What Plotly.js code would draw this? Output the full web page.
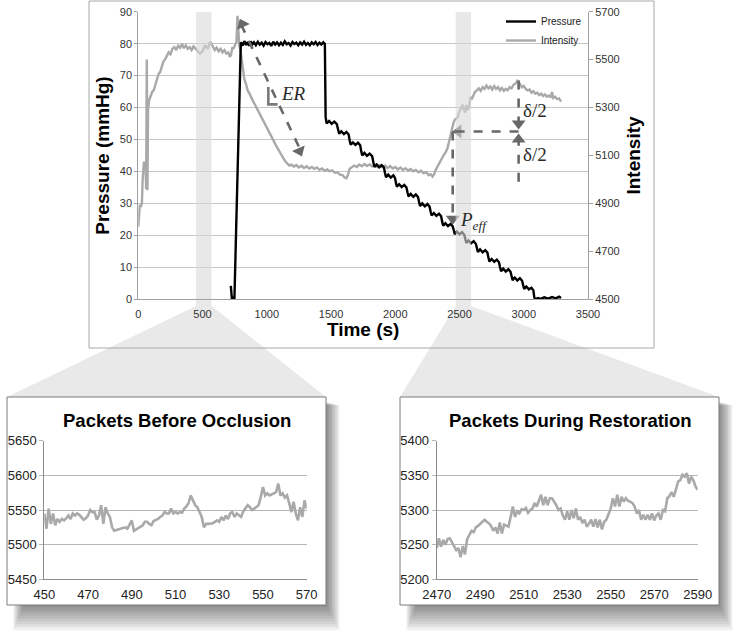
<!DOCTYPE html>
<html>
<head>
<meta charset="utf-8">
<script src="https://cdn.plot.ly/plotly-3.0.1.min.js"></script>
<style>
  html, body { margin: 0; padding: 0; background: #ffffff; }
  #chart { width: 750px; height: 635px; }
</style>
</head>
<body>
<div id="chart"></div>
<script>
// ---------------- DATA ----------------
// Main chart: cuff pressure (mmHg, left axis)
const pressureTime = [720,724,728,735,742,748,798,
  812,825,838,850,862,875,888,900,915,930,945,960,975,990,1005,1020,1035,1050,1065,1080,1095,1110,1125,1140,1155,1170,1185,1200,1215,1230,1245,1260,1275,1290,1305,1320,1335,1350,1365,1380,1395,1410,1425,1440,1452,
  1458,1466,1485,1505,1525,1545,
  1555,1563,1580,1600,1620,1637,
  1645,1653,1670,1690,1710,1727,
  1735,1743,1760,1780,1800,1820,
  1830,1838,1855,1875,1895,1912,
  1920,1928,1945,1965,1985,1998,
  2005,2013,2030,2050,2070,2087,
  2095,2103,2120,2140,2160,2177,
  2185,2193,2210,2230,2250,2267,
  2275,2283,2300,2320,2340,2357,
  2365,2373,2390,2410,2430,2447,
  2455,2463,2480,2500,2520,2537,
  2545,2553,2570,2590,2610,2627,
  2635,2643,2660,2680,2700,2717,
  2725,2733,2750,2770,2790,2807,
  2815,2823,2840,2860,2880,2897,
  2905,2913,2930,2950,2970,2987,
  2995,3003,3020,3040,3060,3075,
  3082,3090,3110,3130,3160,3190,3220,3250,3275,3290];
const pressureValue = [4.2,3.0,0.3,0.0,0.8,0.1,80.4,
  79.4,80.8,79.6,80.5,79.3,80.7,79.8,80.4,79.5,80.6,79.7,80.3,79.4,80.5,79.8,80.2,79.3,80.6,79.7,80.4,79.5,80.3,79.6,80.7,79.8,80.2,79.4,80.5,79.9,80.3,79.5,80.4,79.7,80.6,79.6,80.2,79.5,80.4,79.8,80.5,79.6,80.3,79.7,80.4,79.9,
  57.0,55.0,55.8,54.9,55.6,54.8,
  53.0,51.8,52.6,51.7,52.4,51.6,
  49.7,48.4,49.1,48.3,49.0,48.2,
  46.3,45.0,45.8,44.9,45.6,44.8,
  42.8,41.4,42.2,41.3,42.0,41.2,
  39.5,38.2,39.0,38.1,38.8,38.0,
  36.5,35.2,36.0,35.1,35.8,35.0,
  33.5,32.2,33.0,32.1,32.8,32.0,
  30.5,29.2,30.0,29.1,29.8,29.0,
  27.5,26.2,27.0,26.1,26.8,26.0,
  24.3,23.0,23.8,22.9,23.6,22.8,
  21.7,20.4,21.2,20.3,21.0,20.2,
  18.9,17.6,18.4,17.5,18.2,17.4,
  16.1,14.8,15.6,14.7,15.4,14.6,
  13.1,11.8,12.6,11.7,12.4,11.6,
  10.1,8.8,9.6,8.7,9.4,8.6,
  7.3,6.0,6.8,5.9,6.6,5.8,
  4.5,3.2,4.0,3.1,3.6,2.8,
  0.6,0.0,0.4,0.1,0.6,0.2,0.7,0.3,0.8,0.4];

// Main chart: light intensity (right axis)
const intensityTime = [0,6,12,20,28,34,38,44,50,56,61,66,71,76,84,95,108,120,132,145,158,170,182,195,208,222,236,250,265,280,295,310,325,340,355,370,385,400,415,430,445,
  460,480,500,520,540,560,580,595,610,625,640,655,670,685,700,712,722,732,740,752,764,772,778,786,795,805,815,825,840,852,862,875,890,905,920,935,950,966,980,995,1010,1025,1040,1055,1070,1085,1100,1115,1130,1145,1160,1175,1190,1210,1230,1250,1270,1290,1310,1330,1350,1370,1390,1410,1430,1450,1470,1490,1510,1530,1550,1570,1590,1605,1620,1632,1645,1660,1680,1700,1720,1740,1760,1780,1800,1820,1840,1860,1880,1900,1920,1940,1960,1980,2000,2020,2040,2060,2080,2100,2120,2140,2160,2180,2200,2220,2240,2260,2275,2290,2300,2315,2330,2345,2360,2375,2390,2405,2415,2425,2435,2445,2455,2465,2475,2485,2495,2505,2515,2525,2535,2545,2555,2565,2575,2585,2595,2605,2620,2635,2650,2665,2680,2695,2710,2725,2740,2755,2770,2785,2800,2815,2830,2845,2860,2875,2890,2905,2920,2935,2950,2960,2972,2985,3000,3015,3030,3045,3060,3075,3090,3105,3120,3135,3150,3165,3180,3195,3210,3220,3230,3245,3260,3275,3290];
const intensityValue = [4803,4850,4895,4885,4900,5000,5065,5075,5058,5068,4960,5500,4955,5290,5330,5345,5365,5372,5395,5420,5440,5448,5470,5492,5500,5518,5530,5522,5545,5552,5540,5558,5550,5565,5548,5560,5545,5552,5540,5555,5545,
  5540,5525,5535,5560,5545,5575,5555,5540,5550,5535,5545,5530,5540,5525,5530,5512,5520,5552,5545,5560,5575,5683,5600,5560,5540,5500,5455,5420,5395,5370,5362,5345,5330,5315,5300,5285,5270,5253,5240,5225,5205,5192,5175,5160,5143,5128,5112,5098,5088,5075,5068,5058,5062,5054,5060,5050,5057,5048,5055,5046,5052,5044,5050,5040,5046,5036,5042,5034,5038,5028,5030,5020,5018,5008,5005,5020,5045,5050,5058,5052,5062,5055,5064,5056,5063,5054,5061,5052,5060,5051,5058,5048,5056,5046,5052,5042,5050,5040,5047,5037,5044,5034,5040,5030,5036,5026,5030,5018,5022,5012,5020,5040,5055,5075,5085,5100,5112,5128,5150,5175,5195,5222,5240,5250,5255,5258,5278,5290,5302,5312,5290,5280,5310,5295,5300,5345,5335,5350,5365,5372,5380,5370,5385,5378,5392,5380,5388,5375,5390,5378,5385,5372,5382,5370,5378,5372,5385,5380,5395,5400,5412,5405,5398,5385,5390,5378,5372,5375,5362,5368,5358,5362,5352,5358,5348,5355,5345,5350,5342,5365,5340,5345,5335,5338,5325];

// Zoom windows (s) shown as packets
const beforeWindow = [450, 570];
const restoreWindow = [2470, 2590];

// Packets before occlusion: intensity every 1 s from 450 s
const beforeOcclusion = [5545,5523,5552,5530,5545,5528,5537,5533,5537,5535,5538,5542,5537,5545,5542,5545,5543,5540,5536,5538,
  5542,5550,5547,5547,5536,5542,5557,5530,5554,5545,5540,5525,5520,5521,5522,5523,5524,5525,5523,5530,
  5535,5520,5522,5523,5525,5528,5533,5533,5530,5528,5534,5535,5537,5540,5542,5547,5545,5545,5552,5545,
  5547,5545,5547,5546,5552,5555,5560,5571,5564,5557,5554,5547,5540,5525,5530,5530,5530,5531,5533,5535,
  5533,5540,5535,5542,5537,5545,5547,5540,5545,5542,5540,5548,5552,5557,5554,5550,5552,5554,5557,5569,
  5583,5571,5574,5571,5572,5574,5576,5588,5571,5574,5568,5571,5560,5547,5562,5545,5535,5554,5540,5564,5552];

// Packets during restoration: intensity every 1 s from 2470 s
const duringRestoration = [5245,5259,5247,5257,5250,5258,5259,5254,5247,5242,5245,5232,5248,5236,5258,5265,5270,5268,5275,5277,
  5280,5283,5286,5283,5281,5277,5270,5275,5266,5282,5266,5279,5278,5276,5290,5305,5290,5298,5295,5301,
  5300,5303,5296,5300,5302,5310,5305,5314,5322,5307,5319,5307,5317,5317,5312,5307,5300,5302,5292,5286,
  5298,5286,5300,5288,5302,5286,5290,5281,5286,5276,5280,5286,5276,5287,5275,5286,5272,5283,5286,5294,
  5302,5317,5305,5322,5305,5319,5312,5317,5313,5312,5310,5305,5295,5300,5286,5293,5286,5293,5286,5295,
  5285,5292,5295,5286,5300,5298,5317,5320,5326,5319,5331,5341,5343,5351,5348,5353,5338,5348,5343,5334,5329];

// ---------------- LAYOUT HELPERS ----------------
const W = 750, H = 635;
const px = x => x / W;            // pixel -> paper x
const py = y => 1 - y / H;        // pixel -> paper y
const mainX = [138.3, 588];       // plot area in pixels
const mainY = [11.7, 299.3];
const mainRange = [0, 3500];
const tx = t => mainX[0] + (t - mainRange[0]) / (mainRange[1] - mainRange[0]) * (mainX[1] - mainX[0]);

const box1 = [7, 397, 326, 605];
const box2 = [400, 397, 719, 605];

const FONT = 'Liberation Sans, Arial, sans-serif';
const SERIF = 'Liberation Serif, Times New Roman, serif';
const ARROW = '#686868';

function rectPaper(b, extra) {
  return Object.assign({type:'rect', xref:'paper', yref:'paper',
    x0:px(b[0]), x1:px(b[2]), y0:py(b[3]), y1:py(b[1]), layer:'below'}, extra);
}
function shadow(b) {
  const out = [];
  for (let k = 0; k < 9; k++) {
    out.push(rectPaper([b[0] + 16 - k * 1.2, b[1] + 5 + k * 0.4, b[2] + 1.5 + k * 1.5, b[3] + 2 + k * 2.9],
      {fillcolor:'rgba(0,0,0,0.058)', line:{width:0}}));
  }
  return out;
}
function fan(win, b) {
  const l = tx(win[0]), r = tx(win[1]);
  const pts = [[l, mainY[1]], [r, mainY[1]], [r, 306], [b[2], b[1]], [b[0], b[1]], [l, 306]];
  return {type:'path', xref:'paper', yref:'paper', layer:'below',
    path: 'M ' + pts.map(p => px(p[0]).toFixed(5) + ',' + py(p[1]).toFixed(5)).join(' L ') + ' Z',
    fillcolor:'#e9e9e9', line:{width:0}};
}
const dashLine = (x0, y0, x1, y1, yref) => ({type:'line', xref:'x', yref:yref, x0, y0, x1, y1,
  layer:'above', line:{color:ARROW, width:2.6, dash:'dash'}});

// arrowhead markers (centre just behind each tip, rotated along the arrow)
const headsIntensity = {x:[2491, 2447, 2960, 2960], y:[5200, 4836, 5233, 5167], angle:[270, 180, 180, 0]};
const headsPressure = {x:[809, 1255], y:[86.1, 46.4], angle:[-24, 156]};

// ---------------- TRACES ----------------
const traces = [
  {type:'scatter', mode:'lines', name:'Intensity', x:intensityTime, y:intensityValue,
   xaxis:'x', yaxis:'y', line:{color:'#a9a9a9', width:2.4}},
  {type:'scatter', mode:'lines', name:'Pressure', x:pressureTime, y:pressureValue,
   xaxis:'x', yaxis:'y2', line:{color:'#000000', width:2.4}},
  {type:'scatter', mode:'markers', name:'arrow heads', x:headsIntensity.x, y:headsIntensity.y,
   xaxis:'x', yaxis:'y', showlegend:false, hoverinfo:'skip',
   marker:{symbol:'triangle-up', size:12, color:ARROW, angle:headsIntensity.angle, line:{width:0}}},
  {type:'scatter', mode:'markers', name:'ER heads', x:headsPressure.x, y:headsPressure.y,
   xaxis:'x', yaxis:'y2', showlegend:false, hoverinfo:'skip',
   marker:{symbol:'triangle-up', size:12, color:ARROW, angle:headsPressure.angle, line:{width:0}}},
  {type:'scatter', mode:'lines', name:'Before occlusion', x0:beforeWindow[0], dx:1, y:beforeOcclusion,
   xaxis:'x3', yaxis:'y3', line:{color:'#a9a9a9', width:2.6}, showlegend:false},
  {type:'scatter', mode:'lines', name:'During restoration', x0:restoreWindow[0], dx:1, y:duringRestoration,
   xaxis:'x4', yaxis:'y4', line:{color:'#a9a9a9', width:2.6}, showlegend:false}
];

// ---------------- AXES ----------------
const tickMain = {family:FONT, size:11, color:'#333'};
const tickSub = {family:FONT, size:13, color:'#222'};
const titleFont = {family:FONT, size:19, color:'#000'};

const subX = (dom, anchor, win) => ({domain:dom, anchor:anchor, range:win, dtick:20, tick0:win[0],
  showgrid:false, zeroline:false, showline:true, linecolor:'#8c8c8c', linewidth:1,
  ticks:'outside', ticklen:3, tickcolor:'rgba(0,0,0,0)', tickfont:tickSub, fixedrange:true});
const subY = (anchor, rng) => ({domain:[py(579.3), py(440.7)], anchor:anchor, range:rng, dtick:50,
  showgrid:true, gridcolor:'#b6b6b6', gridwidth:1, zeroline:false, showline:true, linecolor:'#8c8c8c',
  ticks:'outside', ticklen:4, tickcolor:'#b6b6b6', tickfont:tickSub, fixedrange:true});

const layout = {
  width:W, height:H, margin:{l:0, r:0, t:0, b:0},
  paper_bgcolor:'#ffffff', plot_bgcolor:'rgba(0,0,0,0)',
  showlegend:true,
  legend:{x:px(501), y:py(7), xanchor:'left', yanchor:'top', traceorder:'reversed',
    font:{family:FONT, size:10, color:'#222'}, bgcolor:'rgba(0,0,0,0)', itemwidth:30},
  xaxis:{domain:[px(mainX[0]), px(mainX[1])], anchor:'y', range:mainRange, dtick:500, tick0:0,
    showgrid:false, zeroline:false, showline:true, linecolor:'#a0a0a0', linewidth:1,
    ticks:'outside', ticklen:4, tickcolor:'rgba(0,0,0,0)', tickfont:tickMain, fixedrange:true,
    title:{text:'<b>Time (s)</b>', font:titleFont, standoff:4}},
  yaxis:{domain:[py(mainY[1]), py(mainY[0])], anchor:'x', side:'right', range:[4500, 5700], dtick:200, tick0:4500,
    showgrid:false, zeroline:false, showline:true, linecolor:'#a0a0a0', linewidth:1,
    ticks:'outside', ticklen:4, tickcolor:'#a0a0a0', tickfont:tickMain, fixedrange:true,
    title:{text:'<b>Intensity</b>', font:titleFont, standoff:8}},
  yaxis2:{overlaying:'y', anchor:'x', side:'left', range:[0, 90], dtick:10, tick0:0,
    showgrid:true, gridcolor:'#c6c6c6', gridwidth:1, zeroline:false, showline:true, linecolor:'#a0a0a0', linewidth:1,
    ticks:'outside', ticklen:3, tickcolor:'#a0a0a0', tickfont:tickMain, fixedrange:true,
    title:{text:'<b>Pressure (mmHg)</b>', font:titleFont, standoff:5}},
  xaxis3:subX([px(44.3), px(306.7)], 'y3', beforeWindow),
  yaxis3:subY('x3', [5450, 5650]),
  xaxis4:subX([px(436.7), px(697.7)], 'y4', restoreWindow),
  yaxis4:subY('x4', [5200, 5400]),
  shapes:[].concat(
    shadow(box1), shadow(box2),
    [fan(beforeWindow, box1), fan(restoreWindow, box2)],
    [rectPaper([89, 1, 654, 348], {fillcolor:'rgba(0,0,0,0)', line:{color:'#a8a8a8', width:1}})],
    [rectPaper(box1, {fillcolor:'#ffffff', line:{color:'#7a7a7a', width:1}}),
     rectPaper(box2, {fillcolor:'#ffffff', line:{color:'#7a7a7a', width:1}})],
    [ {type:'rect', xref:'x', yref:'y2', x0:beforeWindow[0], x1:beforeWindow[1], y0:0, y1:90,
       fillcolor:'#d9d9d9', opacity:0.6, line:{width:0}, layer:'above'},
      {type:'rect', xref:'x', yref:'y2', x0:restoreWindow[0], x1:restoreWindow[1], y0:0, y1:90,
       fillcolor:'#d9d9d9', opacity:0.6, line:{width:0}, layer:'above'} ],
    [ dashLine(800, 86.0, 1264, 46.5, 'y2'),
      {type:'path', xref:'x', yref:'y2', layer:'above', path:'M 1012,66.4 L 1012,61 L 1084,61',
       line:{color:'#7a7a7a', width:2.6}},
      dashLine(2960, 5200, 2470, 5200, 'y'),
      dashLine(2447, 5200, 2447, 4830, 'y'),
      dashLine(2960, 5413, 2960, 5225, 'y'),
      dashLine(2960, 4990, 2960, 5175, 'y') ]
  ),
  annotations:[
    {x:1208, y:64.3, xref:'x', yref:'y2', text:'<i>ER</i>', showarrow:false,
     font:{family:SERIF, size:19, color:'#2a2a2a'}},
    {x:3085, y:5289, xref:'x', yref:'y', text:'δ/2', showarrow:false,
     font:{family:SERIF, size:19, color:'#2a2a2a'}},
    {x:3085, y:5103, xref:'x', yref:'y', text:'δ/2', showarrow:false,
     font:{family:SERIF, size:19, color:'#2a2a2a'}},
    {x:2485, y:24.5, xref:'x', yref:'y2', xanchor:'left', yanchor:'middle',
     text:'<i>P</i><sub><i>eff</i></sub>', showarrow:false,
     font:{family:SERIF, size:19, color:'#2a2a2a'}},
    {x:px(176.5), y:py(420), xref:'paper', yref:'paper', xanchor:'center', yanchor:'middle',
     text:'<b>Packets Before Occlusion</b>', showarrow:false, font:{family:FONT, size:18.5, color:'#000'}},
    {x:px(570.5), y:py(420), xref:'paper', yref:'paper', xanchor:'center', yanchor:'middle',
     text:'<b>Packets During Restoration</b>', showarrow:false, font:{family:FONT, size:18.5, color:'#000'}}
  ]
};

Plotly.newPlot('chart', traces, layout, {displayModeBar:false, staticPlot:true});
</script>
</body>
</html>
